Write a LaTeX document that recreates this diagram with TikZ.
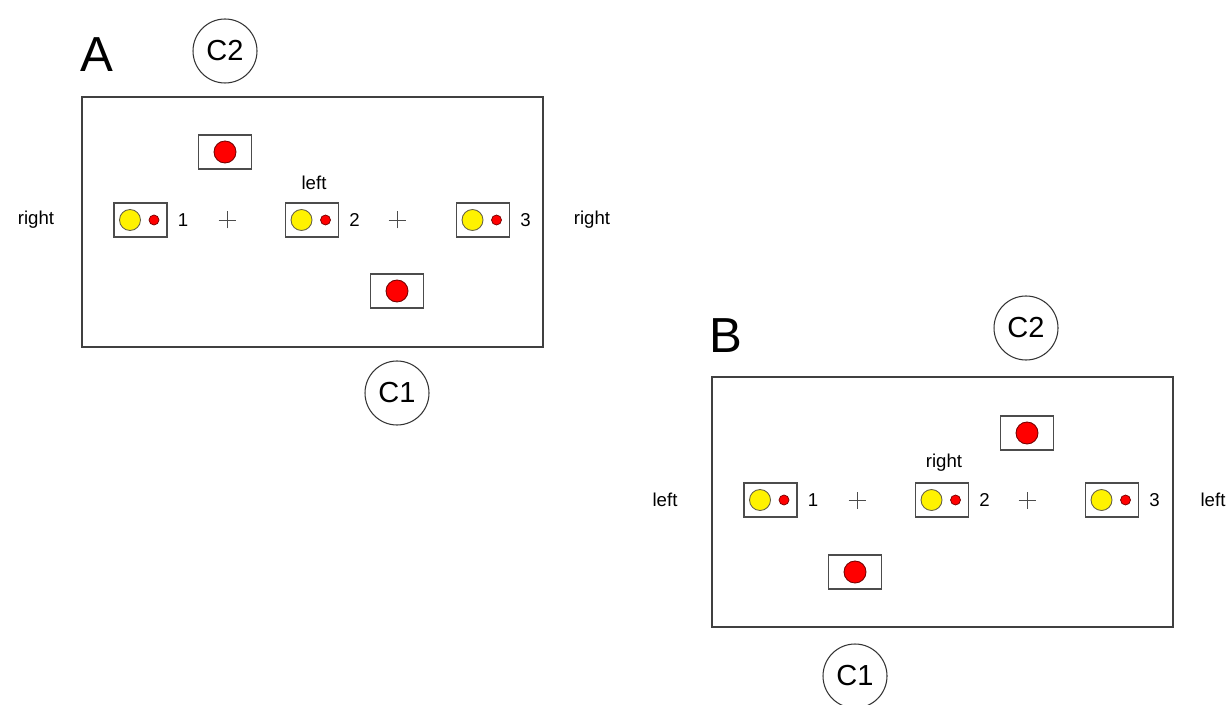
\documentclass[tikz,border=0pt]{standalone}
\usepackage{fontspec}
\setmainfont{Liberation Sans}
\usetikzlibrary{positioning}

\tikzset{
  frame/.style={draw=black!75, line width=0.9pt},
  holder/.style={draw=black!70, line width=0.6pt, minimum width=1.06cm, minimum height=0.68cm, inner sep=0pt},
  yellowdot/.style={circle, draw=yellow!30!black, fill=yellow, line width=0.5pt, minimum size=0.42cm, inner sep=0pt},
  reddot/.style={circle, draw=red!45!black, fill=red, line width=0.4pt, minimum size=0.2cm, inner sep=0pt},
  redspot/.style={circle, draw=red!45!black, fill=red, line width=0.5pt, minimum size=0.44cm, inner sep=0pt},
  chamber/.style={circle, draw=black!80, line width=0.6pt, minimum size=1.28cm, inner sep=0pt, font=\fontsize{16.5}{19}\selectfont},
  side/.style={font=\fontsize{10.6}{12}\selectfont},
  plus/.style={draw=black!70, line width=0.5pt},
  panel/.style={font=\fontsize{28}{32}\selectfont}
}

\begin{document}
\begin{tikzpicture}
    \useasboundingbox (0,0) rectangle (24.6,14.08);

    % Panel A
    \begin{scope}[shift={(1.62,7.12)}]
        \node[frame, minimum width=9.22cm, minimum height=5cm, anchor=south west] (aBox) at (0,0) {};
        \node[panel] (aLabel) at (0.32,5.86) {A};
        \node[chamber] (aC2) at (2.88,5.94) {C2};
        \node[chamber] (aC1) at (6.32,-0.9) {C1};
        \node[holder] (aTop) at (2.88,3.92) {};
        \node[redspot] (aTopDot) at (aTop.center) {};
        \node[holder] (aBot) at (6.32,1.14) {};
        \node[redspot] (aBotDot) at (aBot.center) {};
        \foreach \n/\x in {1/1.19, 2/4.62, 3/8.04} {
            \node[holder] (aP\n) at (\x,2.56) {};
            \node[yellowdot] (aY\n) at ([xshift=-0.21cm]aP\n.center) {};
            \node[reddot] (aR\n) at ([xshift=0.27cm]aP\n.center) {};
            \node[side] (aN\n) at (\x+0.85,2.56) {\n};
        }
        \foreach \x in {2.92, 6.32}
            \draw[plus] (\x-0.17,2.56) -- (\x+0.17,2.56) (\x,2.39) -- (\x,2.73);
        \node[side] (aUp) at (4.66,3.3) {left};
        \node[side] (aWest) at (-0.9,2.56) {right};
        \node[side] (aEast) at (10.22,2.56) {right};
    \end{scope}

    % Panel B
    \begin{scope}[shift={(14.22,1.52)}]
        \node[frame, minimum width=9.22cm, minimum height=5cm, anchor=south west] (bBox) at (0,0) {};
        \node[panel] (bLabel) at (0.30,5.84) {B};
        \node[chamber] (bC2) at (6.30,6.0) {C2};
        \node[chamber] (bC1) at (2.88,-0.96) {C1};
        \node[holder] (bTop) at (6.32,3.9) {};
        \node[redspot] (bTopDot) at (bTop.center) {};
        \node[holder] (bBot) at (2.88,1.12) {};
        \node[redspot] (bBotDot) at (bBot.center) {};
        \foreach \n/\x in {1/1.19, 2/4.62, 3/8.02} {
            \node[holder] (bP\n) at (\x,2.56) {};
            \node[yellowdot] (bY\n) at ([xshift=-0.21cm]bP\n.center) {};
            \node[reddot] (bR\n) at ([xshift=0.27cm]bP\n.center) {};
            \node[side] (bN\n) at (\x+0.85,2.56) {\n};
        }
        \foreach \x in {2.92, 6.32}
            \draw[plus] (\x-0.17,2.56) -- (\x+0.17,2.56) (\x,2.39) -- (\x,2.73);
        \node[side] (bUp) at (4.66,3.3) {right};
        \node[side] (bWest) at (-0.92,2.56) {left};
        \node[side] (bEast) at (10.04,2.56) {left};
    \end{scope}
\end{tikzpicture}
\end{document}
